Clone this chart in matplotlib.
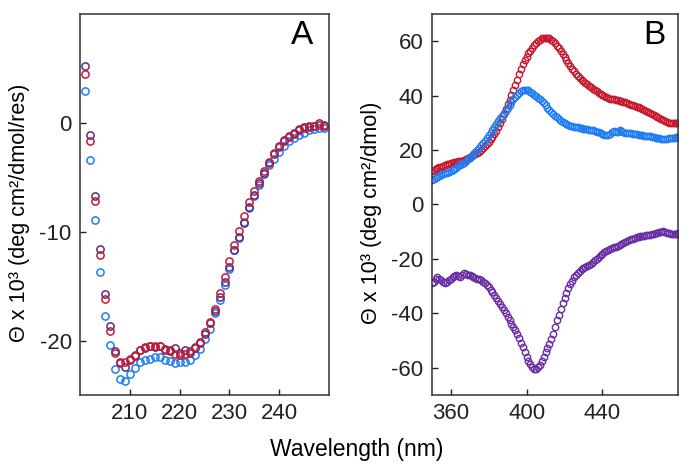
import numpy as np
import matplotlib
matplotlib.use("Agg")
import matplotlib.pyplot as plt

plt.rcParams['font.family'] = ['Liberation Sans', 'DejaVu Sans']
plt.rcParams['axes.unicode_minus'] = False

#==========================#
# panel A - far UV CD data
#==========================#
wl_a = list(range(201, 250))
a_red = [4.5, -1.7, -7.2, -12.1, -16.2, -19.1, -21.1, -22.1, -22.0, -21.7,
         -21.3, -20.9, -20.6, -20.5, -20.5, -20.5, -20.8, -20.9, -21.2, -21.3,
         -21.2, -21.1, -20.6, -20.1, -19.2, -18.3, -17.1, -15.6, -14.2, -12.7,
         -11.2, -9.9, -8.6, -7.3, -6.3, -5.3, -4.4, -3.6, -2.8, -2.2,
         -1.7, -1.3, -1.0, -0.7, -0.5, -0.4, -0.3, -0.2, -0.3]
a_blue = [2.9, -3.4, -8.9, -13.7, -17.7, -20.4, -22.6, -23.5, -23.7, -23.1,
          -22.5, -22.0, -21.8, -21.7, -21.5, -21.5, -21.8, -21.9, -22.1, -22.0,
          -22.0, -21.8, -21.3, -20.8, -19.9, -18.9, -17.5, -16.3, -14.9, -13.4,
          -11.7, -10.6, -9.1, -7.8, -6.7, -5.7, -4.7, -3.9, -3.3, -2.7,
          -2.1, -1.7, -1.4, -1.1, -0.9, -0.7, -0.6, -0.5, -0.5]
a_purple = [5.2, -1.1, -6.7, -11.6, -15.7, -18.7, -21.0, -22.0, -22.4, -21.8,
            -21.4, -20.9, -20.7, -20.5, -20.6, -20.5, -20.9, -21.0, -20.7, -21.1,
            -20.9, -21.0, -20.7, -20.2, -19.4, -18.4, -17.3, -16.0, -14.6, -13.2,
            -11.7, -10.5, -9.2, -7.7, -6.6, -5.5, -4.6, -3.7, -2.9, -2.1,
            -1.6, -1.2, -0.9, -0.6, -0.4, -0.3, -0.3, 0.0, -0.2]

#==========================#
# panel B - Soret CD data
#==========================#
wl_b = list(range(350, 481))
b_red = [12.3, 12.6, 12.9, 13.3, 13.6, 13.9, 14.2, 14.5, 14.8, 15.0,
         15.1, 15.3, 15.5, 15.7, 15.9, 16.0, 16.1, 16.4, 16.8, 17.1,
         17.4, 17.7, 18.1, 18.4, 18.9, 19.4, 20.0, 20.7, 21.5, 22.3,
         23.1, 23.9, 24.8, 25.9, 27.1, 28.4, 29.9, 31.5, 33.2, 35.0,
         36.8, 38.4, 40.2, 42.0, 43.9, 45.8, 47.8, 49.8, 51.5, 53.0,
         54.3, 55.5, 56.5, 57.5, 58.5, 59.3, 60.0, 60.6, 61.1, 61.3,
         61.3, 61.2, 61.0, 60.6, 60.0, 59.3, 58.4, 57.4, 56.3, 55.2,
         54.2, 53.0, 51.9, 50.9, 49.9, 49.0, 48.1, 47.3, 46.6, 45.9,
         45.3, 44.7, 44.1, 43.6, 43.0, 42.5, 42.0, 41.6, 41.1, 40.6,
         40.2, 39.8, 39.5, 39.2, 38.9, 38.8, 38.6, 38.5, 38.3, 38.1,
         38.0, 37.8, 37.5, 37.2, 36.9, 36.6, 36.4, 36.2, 35.9, 35.7,
         35.4, 35.2, 34.8, 34.4, 34.0, 33.6, 33.3, 32.9, 32.5, 32.1,
         31.7, 31.3, 30.9, 30.6, 30.3, 30.1, 29.9, 29.8, 29.8, 29.9, 29.9]
b_blue = [8.9, 9.3, 9.7, 10.0, 10.4, 10.8, 11.1, 11.4, 11.7, 11.9,
          12.2, 12.6, 13.0, 13.5, 14.0, 14.5, 14.9, 15.4, 16.0, 16.6,
          17.2, 17.8, 18.5, 19.2, 20.0, 20.8, 21.7, 22.6, 23.5, 24.4,
          25.4, 26.4, 27.5, 28.6, 29.6, 30.6, 31.6, 32.6, 33.6, 34.5,
          35.5, 36.6, 37.6, 38.6, 39.5, 40.4, 41.0, 41.6, 42.0, 42.2,
          42.2, 41.9, 41.4, 40.9, 40.3, 39.7, 39.2, 38.7, 38.2, 37.4,
          36.6, 35.6, 34.6, 33.9, 33.3, 32.6, 32.1, 31.4, 30.8, 30.2,
          29.8, 29.5, 29.2, 29.0, 28.7, 28.5, 28.4, 28.3, 28.1, 28.0,
          27.9, 27.8, 27.6, 27.5, 27.3, 27.2, 27.0, 26.8, 26.5, 26.2,
          25.9, 25.6, 25.5, 25.4, 25.9, 26.6, 26.9, 26.5, 26.8, 27.2,
          27.1, 26.7, 26.4, 26.3, 26.2, 26.1, 26.0, 25.9, 25.8, 25.7,
          25.6, 25.5, 25.3, 25.2, 25.1, 25.0, 24.8, 24.7, 24.5, 24.4,
          24.3, 24.2, 24.1, 24.1, 24.2, 24.3, 24.4, 24.5, 24.6, 24.7, 24.8]
b_purple = [-28.9, -28.3, -27.4, -26.8, -27.3, -27.9, -28.5, -28.9, -28.6, -27.8,
            -27.2, -26.8, -26.3, -26.0, -26.2, -26.5, -25.8, -25.3, -25.5, -25.9,
            -25.8, -26.1, -26.6, -26.9, -27.2, -27.3, -27.8, -28.3, -29.0, -29.7,
            -30.4, -31.3, -32.2, -33.1, -34.2, -35.3, -36.4, -37.6, -38.8, -40.0,
            -41.4, -42.6, -43.8, -44.9, -46.2, -47.5, -49.2, -50.8, -52.5, -54.3,
            -56.1, -57.4, -58.6, -59.6, -60.4, -60.3, -59.8, -58.8, -57.4, -55.9,
            -54.3, -52.8, -51.2, -49.4, -47.5, -45.1, -42.5, -40.5, -38.4, -36.2,
            -34.3, -32.4, -30.8, -29.3, -28.0, -26.8, -25.8, -25.0, -24.3, -23.8,
            -23.4, -23.0, -22.6, -22.2, -21.7, -21.2, -20.5, -19.9, -19.3, -18.7,
            -18.1, -17.6, -17.1, -16.7, -16.4, -16.1, -15.8, -15.6, -15.2, -14.8,
            -14.4, -14.1, -13.8, -13.4, -13.0, -12.7, -12.5, -12.3, -12.1, -11.9,
            -11.7, -11.6, -11.4, -11.3, -11.2, -11.1, -11.0, -10.8, -10.6, -10.4,
            -10.2, -10.0, -9.9, -10.1, -10.4, -10.6, -10.7, -10.8, -10.8, -10.7, -10.6]

red = "#c8192e"
blue = "#1f7cf5"
purple_a = "#5e2a84"
purple_b = "#6a2ea3"

fig = plt.figure(figsize=(6.9, 4.65), dpi=100)
ax_a = fig.add_axes([0.116, 0.1505, 0.361, 0.8195])
ax_b = fig.add_axes([0.6257, 0.1505, 0.3574, 0.8195])

mk = dict(marker="o", linestyle="none", markerfacecolor="none", markersize=5.2, markeredgewidth=1.1)

# panel A
ax_a.plot(wl_a, a_blue, color=blue, **mk)
ax_a.plot(wl_a, a_purple, color=purple_a, **mk)
ax_a.plot(wl_a, a_red, color=red, **mk)
ax_a.set_xlim(200, 250)
ax_a.set_ylim(-25, 10)
ax_a.set_xticks([210, 220, 230, 240])
ax_a.set_yticks([0, -10, -20])
ax_a.set_ylabel("Θ x 10³ (deg cm²/dmol/res)", fontsize=15.6)
ax_a.yaxis.set_label_coords(-0.20, 0.478)
ax_a.text(0.936, 0.985, "A", transform=ax_a.transAxes, ha="right", va="top", fontsize=24)

# panel B
mk_b = dict(mk, markersize=4.6, markeredgewidth=1.0)
ax_b.plot(wl_b, b_red, color=red, **mk_b)
ax_b.plot(wl_b, b_blue, color=blue, **mk_b)
ax_b.plot(wl_b, b_purple, color=purple_b, **mk_b)
ax_b.set_xlim(350, 480)
ax_b.set_ylim(-70, 70)
ax_b.set_xticks([360, 400, 440])
ax_b.set_yticks([60, 40, 20, 0, -20, -40, -60])
ax_b.set_ylabel("Θ x 10³ (deg cm²/dmol)", fontsize=15.6)
ax_b.yaxis.set_label_coords(-0.20, 0.478)
ax_b.text(0.947, 0.985, "B", transform=ax_b.transAxes, ha="right", va="top", fontsize=24)

for ax in (ax_a, ax_b):
    ax.tick_params(direction="in", length=4, width=1, labelsize=16, pad=6, colors="#222222")
    for s in ax.spines.values():
        s.set_linewidth(1.1)
        s.set_color("#333333")

fig.text(0.517, 0.033, "Wavelength (nm)", ha="center", va="center", fontsize=16.5)

fig.savefig("out.png", dpi=100)
